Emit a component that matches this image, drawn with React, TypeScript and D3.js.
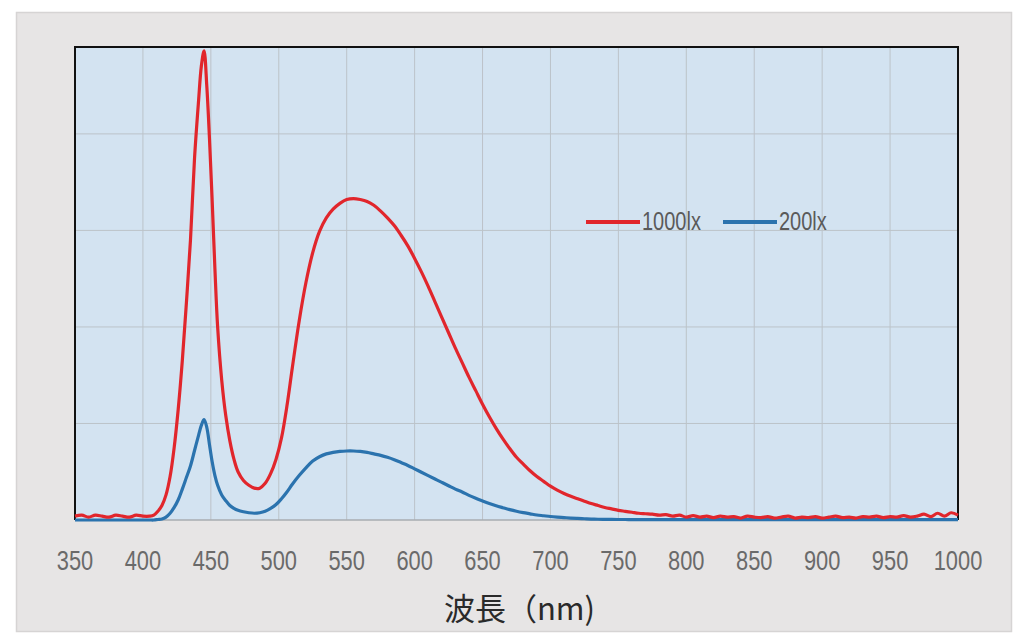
import * as d3 from "d3";

// wavelength samples (nm), with finer steps around the blue LED peak
const wavelengths = [
  350, 355, 360, 365, 370, 375, 380, 385, 390, 395, 400, 405,
  408, 411, 414, 417, 420, 423, 426, 429, 432, 435, 438, 441, 443, 445, 447, 449, 451, 453, 455,
  458, 461, 464, 467, 470, 474, 478, 482, 486, 490, 494, 498, 502, 506, 510,
  515, 520, 525, 530, 535, 540, 545, 550, 555, 560, 565, 570, 575, 580, 585, 590, 595, 600, 605,
  610, 615, 620, 625, 630, 635, 640, 645, 650, 655, 660, 665, 670, 675, 680, 685, 690, 695, 700,
  705, 710, 715, 720, 725, 730, 735, 740, 745, 750, 755, 760, 765, 770, 775, 780, 785, 790, 795,
  800, 805, 810, 815, 820, 825, 830, 835, 840, 845, 850, 855, 860, 865, 870, 875, 880, 885, 890,
  895, 900, 905, 910, 915, 920, 925, 930, 935, 940, 945, 950, 955, 960, 965, 970, 975, 980, 985,
  990, 995, 1000,
];

const lux1000 = [
  0.04, 0.05, 0.03, 0.05, 0.04, 0.03, 0.05, 0.04, 0.03, 0.05, 0.04, 0.04,
  0.05, 0.09, 0.15, 0.26, 0.45, 0.75, 1.15, 1.65, 2.25, 2.9, 3.75, 4.35, 4.7, 4.86, 4.5, 3.95, 3.3, 2.6, 2.0,
  1.45, 1.08, 0.82, 0.63, 0.5, 0.41, 0.36, 0.33, 0.33, 0.38, 0.48, 0.63, 0.85, 1.18, 1.58,
  2.06, 2.46, 2.77, 2.99, 3.13, 3.22, 3.28, 3.32, 3.33, 3.32, 3.3, 3.26, 3.2, 3.13, 3.05, 2.95, 2.84, 2.71, 2.57,
  2.42, 2.26, 2.1, 1.94, 1.78, 1.63, 1.48, 1.34, 1.2, 1.07, 0.95, 0.84, 0.74, 0.65, 0.58, 0.51, 0.45, 0.4, 0.35,
  0.31, 0.275, 0.245, 0.22, 0.195, 0.17, 0.15, 0.13, 0.115, 0.1, 0.09, 0.08, 0.07, 0.065, 0.06, 0.05, 0.055, 0.04, 0.05,
  0.03, 0.045, 0.03, 0.04, 0.025, 0.04, 0.03, 0.035, 0.02, 0.04, 0.03, 0.025, 0.035, 0.02, 0.03, 0.04, 0.02, 0.03, 0.025,
  0.035, 0.02, 0.03, 0.04, 0.025, 0.03, 0.02, 0.035, 0.03, 0.04, 0.025, 0.035, 0.03, 0.045, 0.03, 0.04, 0.06, 0.035, 0.07,
  0.04, 0.075, 0.05,
];

const lux200 = [
  0, 0, 0, 0, 0, 0, 0, 0, 0, 0, 0, 0,
  0, 0.005, 0.01, 0.03, 0.07, 0.13, 0.21, 0.32, 0.44, 0.56, 0.72, 0.88, 0.98, 1.04, 0.96, 0.78, 0.6, 0.46, 0.36,
  0.26, 0.2, 0.15, 0.12, 0.1, 0.085, 0.075, 0.07, 0.075, 0.09, 0.12, 0.16, 0.22, 0.29, 0.37,
  0.46, 0.54, 0.61, 0.655, 0.685, 0.7, 0.71, 0.715, 0.715, 0.71, 0.7, 0.685, 0.67, 0.65, 0.625, 0.595, 0.565, 0.53, 0.495,
  0.46, 0.425, 0.39, 0.355, 0.32, 0.29, 0.255, 0.225, 0.198, 0.172, 0.148, 0.127, 0.107, 0.09, 0.076, 0.064, 0.052, 0.044, 0.036,
  0.03, 0.025, 0.02, 0.016, 0.013, 0.01, 0.008, 0.007, 0.006, 0.005, 0.005, 0.004, 0.004, 0.004, 0.003, 0.003, 0.003, 0.003, 0.003,
  0.003, 0.003, 0.003, 0.003, 0.003, 0.003, 0.003, 0.003, 0.003, 0.003, 0.003, 0.003, 0.003, 0.003, 0.003, 0.003, 0.003, 0.003, 0.003,
  0.003, 0.003, 0.003, 0.003, 0.003, 0.003, 0.003, 0.003, 0.003, 0.003, 0.003, 0.003, 0.003, 0.003, 0.003, 0.003, 0.003, 0.003, 0.003,
  0.003, 0.003, 0.003,
];

const xTicks = [350, 400, 450, 500, 550, 600, 650, 700, 750, 800, 850, 900, 950, 1000];
const yGrid = [1, 2, 3, 4];

const series = [
  { name: "200lx", values: lux200, color: "#2b73ae" },
  { name: "1000lx", values: lux1000, color: "#e1262c" },
];
const legendOrder = ["1000lx", "200lx"];

const W = 1024;
const H = 640;
const plot = { left: 75, top: 47, right: 958, bottom: 520 };
// no narrow font installed, so squeeze Liberation Sans horizontally
const narrow = "'Liberation Sans', Arial, sans-serif";

export default function App() {
  const x = d3.scaleLinear().domain([350, 1000]).range([plot.left, plot.right]);
  const y = d3.scaleLinear().domain([0, 4.9]).range([plot.bottom, plot.top]);

  const line = (vals: number[]) =>
    d3
      .line<number>()
      .x((_, i) => x(wavelengths[i]))
      .y((d) => y(d))
      .curve(d3.curveCatmullRom.alpha(0.5))(vals) || "";

  return (
    <svg
      width={W}
      height={H}
      style={{ position: "absolute", left: 0, top: 0, background: "#ffffff" }}
    >
      {/* outer panel */}
      <rect x={16.5} y={12.5} width={995} height={619} fill="#e7e5e5" stroke="#d6d4d4" strokeWidth={1.5} />

      {/* plot area */}
      <rect
        x={plot.left}
        y={plot.top}
        width={plot.right - plot.left}
        height={plot.bottom - plot.top}
        fill="#d3e3f1"
      />

      {xTicks.slice(1, -1).map((t) => (
        <line key={t} x1={x(t)} x2={x(t)} y1={plot.top} y2={plot.bottom} stroke="#bcc3c9" strokeWidth={1} />
      ))}
      {yGrid.map((v) => (
        <line key={v} x1={plot.left} x2={plot.right} y1={y(v)} y2={y(v)} stroke="#bcc3c9" strokeWidth={1} />
      ))}

      {/* frame: black on left/top/right, grey axis at the bottom */}
      <path
        d={`M${plot.left},${plot.bottom} V${plot.top} H${plot.right} V${plot.bottom}`}
        fill="none"
        stroke="#111"
        strokeWidth={2}
      />
      <line x1={plot.left} x2={plot.right} y1={plot.bottom} y2={plot.bottom} stroke="#a9adb1" strokeWidth={1.5} />

      {series.map((s) => (
        <path key={s.name} d={line(s.values)} fill="none" stroke={s.color} strokeWidth={3.2} strokeLinejoin="round" />
      ))}

      {/* x tick labels */}
      {xTicks.map((t) => (
        <text
          key={t}
          transform={`translate(${x(t)},570) scale(0.78,1)`}
          textAnchor="middle"
          fontFamily={narrow}
          fontSize={28}
          fill="#6a6a6a"
        >
          {t}
        </text>
      ))}

      <text
        x={(plot.left + plot.right) / 2 + 3}
        y={620}
        textAnchor="middle"
        fontFamily="'Noto Sans CJK JP', 'Noto Sans', sans-serif"
        fontSize={31}
        fill="#2a2a2a"
      >
        波長（nm)
      </text>

      {/* legend */}
      {legendOrder.map((name, i) => {
        const s = series.find((d) => d.name === name)!;
        const lx = 586 + i * 137;
        return (
          <g key={name}>
            <line x1={lx} x2={lx + 54} y1={222} y2={222} stroke={s.color} strokeWidth={4} />
            <text
              transform={`translate(${lx + 56},230) scale(0.8,1)`}
              fontFamily={narrow}
              fontSize={25}
              fill="#5a5a5a"
            >
              {name}
            </text>
          </g>
        );
      })}
    </svg>
  );
}
